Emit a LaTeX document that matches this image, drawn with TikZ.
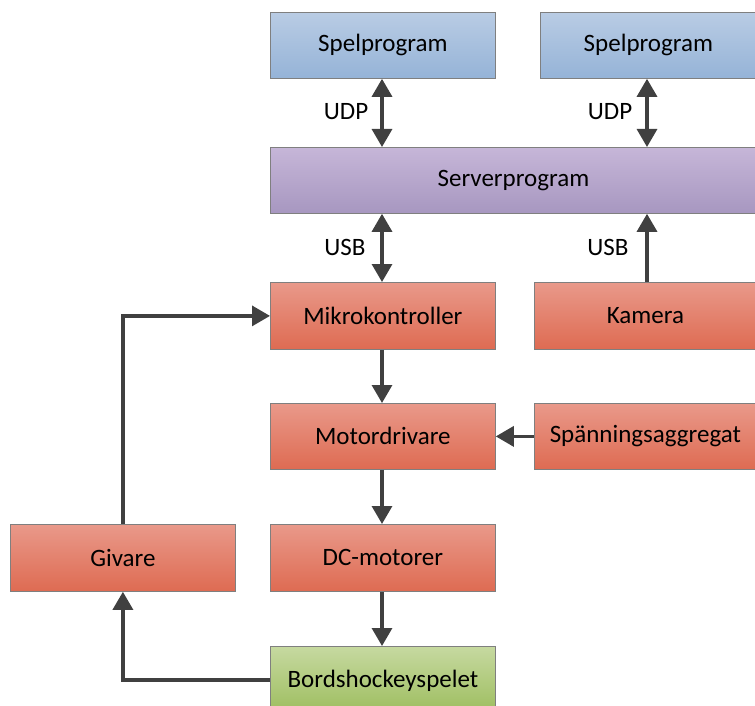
\documentclass[tikz,border=0pt]{standalone}
\usepackage{fontspec}
\setmainfont{Carlito}
\usetikzlibrary{arrows.meta}
\definecolor{bluetop}{HTML}{B9CCE4}
\definecolor{bluebot}{HTML}{95B3D7}
\definecolor{purptop}{HTML}{C6B6D8}
\definecolor{purpbot}{HTML}{A797C0}
\definecolor{redtop}{HTML}{E9998A}
\definecolor{redbot}{HTML}{DE6B52}
\definecolor{greentop}{HTML}{C6D9A0}
\definecolor{greenbot}{HTML}{9DBD5E}
\definecolor{edgegray}{HTML}{7F7F7F}
\definecolor{arrowgray}{HTML}{404040}
\tikzset{
  box/.style={rectangle, draw=edgegray, line width=0.8pt, inner sep=0pt,
    font=\fontsize{25}{30}\selectfont, text=black},
  bluebox/.style={box, top color=bluetop, bottom color=bluebot},
  purplebox/.style={box, top color=purptop, bottom color=purpbot},
  redbox/.style={box, top color=redtop, bottom color=redbot},
  greenbox/.style={box, top color=greentop, bottom color=greenbot},
  conn/.style={draw=arrowgray, line width=3.2pt,
    -{Triangle[width=20pt,length=18pt]}},
  biconn/.style={draw=arrowgray, line width=3.2pt,
    {Triangle[width=20pt,length=18pt]}-{Triangle[width=20pt,length=18pt]}},
  lbl/.style={font=\fontsize{25}{30}\selectfont, text=black}
}
\begin{document}
\begin{tikzpicture}[x=1pt, y=-1pt]
\useasboundingbox (0,0) rectangle (755,706);
\clip (0,0) rectangle (755,706);

% Application and server layer
\node[bluebox, minimum width=225pt, minimum height=66pt, anchor=north west] (spel1) at (270,12) {Spelprogram};
\node[bluebox, minimum width=216pt, minimum height=66pt, anchor=north west] (spel2) at (540,12) {Spelprogram};
\node[purplebox, minimum width=486pt, minimum height=66pt, anchor=north west] (server) at (270,147) {Serverprogram};

% Hardware layer
\node[redbox, minimum width=225pt, minimum height=67pt, anchor=north west] (mikro) at (270,282) {Mikrokontroller};
\node[redbox, minimum width=222pt, minimum height=67pt, anchor=north west] (kamera) at (534,282) {Kamera};
\node[redbox, minimum width=225pt, minimum height=66pt, anchor=north west] (motor) at (270,403) {Motordrivare};
\node[redbox, minimum width=222pt, minimum height=66pt, anchor=north west] (spanning) at (534,403) {Spänningsaggregat};
\node[redbox, minimum width=225pt, minimum height=67pt, anchor=north west] (givare) at (10,524) {Givare};
\node[redbox, minimum width=225pt, minimum height=67pt, anchor=north west] (dc) at (270,524) {DC-motorer};
\node[greenbox, minimum width=225pt, minimum height=68pt, anchor=north west] (bord) at (270,646) {Bordshockeyspelet};

% Connections
\coordinate (x1) at (382,0);
\coordinate (x2) at (647,0);
\draw[biconn] (spel1.south -| x1) -- (server.north -| x1);
\draw[biconn] (spel2.south -| x2) -- (server.north -| x2);
\draw[biconn] (server.south -| x1) -- (mikro.north -| x1);
\draw[conn] (kamera.north -| x2) -- (server.south -| x2);
\draw[conn] (mikro.south -| x1) -- (motor.north -| x1);
\draw[conn] (spanning.west) -- (motor.east);
\draw[conn] (motor.south -| x1) -- (dc.north -| x1);
\draw[conn] (dc.south -| x1) -- (bord.north -| x1);
\draw[conn] (givare.north) |- (mikro.west);
\draw[conn] (bord.west |- 0,680) -| (givare.south);

% Protocol labels
\node[lbl] (udp1) at (346,112) {UDP};
\node[lbl] (udp2) at (610,112) {UDP};
\node[lbl] (usb1) at (345,247) {USB};
\node[lbl] (usb2) at (608,247) {USB};
\end{tikzpicture}
\end{document}
